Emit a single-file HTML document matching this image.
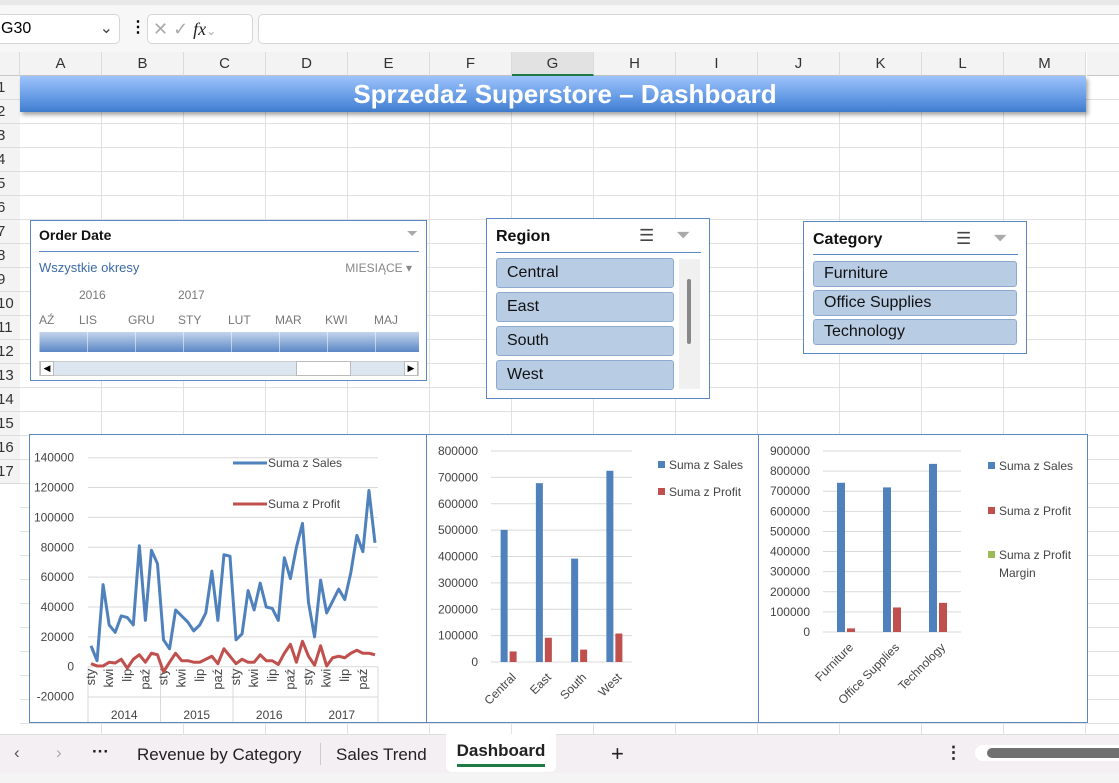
<!DOCTYPE html>
<html><head><meta charset="utf-8">
<style>
*{box-sizing:border-box;margin:0;padding:0}
body{width:1119px;height:783px;overflow:hidden;background:#fff;font-family:"Liberation Sans",sans-serif;position:relative}
.abs{position:absolute}
.colh{position:absolute;top:52px;height:24px;background:#f3f3f3;border-right:1px solid #dcdcdc;border-bottom:1px solid #c8c8c8;font-size:15px;color:#333;text-align:center;line-height:24px}
.rowh{position:absolute;left:0;width:20px;height:24px;font-size:15px;color:#333;line-height:24px;background:#f3f3f3;border-bottom:1px solid #dcdcdc}
.slicer{position:absolute;background:#fff;border:1px solid #5b87c5}
.item{position:absolute;background:#b8cce4;border:1px solid #8ea9cf;border-radius:3px;font-size:16px;color:#111;padding-left:10px;line-height:28px}
svg text{font-family:"Liberation Sans",sans-serif}
</style></head><body>
<div class="abs" style="left:0;top:0;width:1119px;height:52px;background:#f7f7f7;border-top:5px solid #e8e8e8">
 <div class="abs" style="left:-4px;top:9px;width:124px;height:30px;background:#fff;border:1px solid #d6d6d6;border-radius:5px;font-size:16px;line-height:28px;padding-left:4px">G30<span style="position:absolute;right:6px;color:#444">&#8964;</span></div>
 <div class="abs" style="left:130px;top:12px;font-size:16px;font-weight:bold">&#8942;</div>
 <div class="abs" style="left:147px;top:9px;width:106px;height:30px;background:#fff;border:1px solid #d6d6d6;border-radius:5px;font-size:18px;color:#aaa;line-height:28px;padding-left:5px">&#10005; &#10003; <i style="color:#222;font-family:'Liberation Serif',serif">fx</i><span style="font-size:12px">&#8964;</span></div>
 <div class="abs" style="left:258px;top:9px;width:870px;height:30px;background:#fff;border:1px solid #d6d6d6;border-radius:5px"></div>
</div>
<div class="abs" style="left:20px;top:76px;width:1099px;height:660px;background-image:linear-gradient(to right,#e1e1e1 1px,transparent 1px),linear-gradient(to bottom,#e1e1e1 1px,transparent 1px);background-size:82px 24px;background-position:-1px -1px"></div>
<div id="heads"></div>
<div class="abs" style="left:20px;top:76px;width:1066px;height:36px;background:linear-gradient(#9dc3fb,#5b93e0 70%,#3f7ccc);box-shadow:2px 3px 4px rgba(0,0,0,.35);color:#fff;font-weight:bold;font-size:26px;text-align:center;line-height:36px;padding-left:24px">Sprzedaż Superstore – Dashboard</div>

<div class="slicer" style="left:30px;top:220px;width:397px;height:161px">
 <div class="abs" style="left:8px;top:6px;font-weight:bold;font-size:14px;color:#111">Order Date</div>
 <div class="abs" style="right:8px;top:4px;color:#aaa;font-size:14px">&#9207;</div>
 <div class="abs" style="left:8px;top:30px;width:380px;border-top:1px solid #5b87c5"></div>
 <div class="abs" style="left:8px;top:39px;font-size:13px;color:#3b6aa6">Wszystkie okresy</div>
 <div class="abs" style="right:14px;top:40px;font-size:12px;color:#888">MIESIĄCE &#9662;</div>
 <div class="abs" style="left:48px;top:67px;font-size:12px;color:#777">2016</div>
 <div class="abs" style="left:147px;top:67px;font-size:12px;color:#777">2017</div>
 <div class="abs" style="left:8px;top:92px;width:380px;font-size:12px;color:#777;word-spacing:0">
  <span class="abs" style="left:0">AŹ</span><span class="abs" style="left:40px">LIS</span><span class="abs" style="left:89px">GRU</span><span class="abs" style="left:139px">STY</span><span class="abs" style="left:189px">LUT</span><span class="abs" style="left:236px">MAR</span><span class="abs" style="left:286px">KWI</span><span class="abs" style="left:335px">MAJ</span></div>
 <div class="abs" style="left:8px;top:111px;width:380px;height:20px;background-image:linear-gradient(to right,rgba(255,255,255,.5) 1px,transparent 1px),linear-gradient(#c4d5ec,#5b87c5);background-size:48px 20px,auto"></div>
 <div class="abs" style="left:8px;top:140px;width:380px;height:15px;background:#dce6f1;border:1px solid #ccc">
  <div class="abs" style="left:256px;top:-1px;width:55px;height:15px;background:#fff;border:1px solid #bbb"></div>
  <div class="abs" style="left:0;top:-1px;width:14px;height:15px;background:#fff;border:1px solid #bbb;font-size:9px;line-height:13px;text-align:center">&#9664;</div>
  <div class="abs" style="right:0;top:-1px;width:14px;height:15px;background:#fff;border:1px solid #bbb;font-size:9px;line-height:13px;text-align:center">&#9654;</div>
 </div>
</div>

<div class="slicer" style="left:486px;top:218px;width:224px;height:181px">
 <div class="abs" style="left:9px;top:9px;font-weight:bold;font-size:16px;color:#111">Region</div>
 <div class="abs" style="left:152px;top:7px;font-size:17px;color:#444">&#9776;</div>
 <div class="abs" style="left:189px;top:6px;font-size:18px;color:#aaa">&#9207;</div>
 <div class="abs" style="left:9px;top:33px;width:205px;border-top:1px solid #5b87c5"></div>
 <div class="item" style="left:9px;top:39px;width:178px;height:30px">Central</div>
 <div class="item" style="left:9px;top:73px;width:178px;height:30px">East</div>
 <div class="item" style="left:9px;top:107px;width:178px;height:30px">South</div>
 <div class="item" style="left:9px;top:141px;width:178px;height:30px">West</div>
 <div class="abs" style="left:192px;top:40px;width:21px;height:130px;background:#f0f0f0"><div class="abs" style="left:8px;top:20px;width:4px;height:65px;background:#888;border-radius:2px"></div></div>
</div>

<div class="slicer" style="left:803px;top:221px;width:224px;height:133px">
 <div class="abs" style="left:9px;top:9px;font-weight:bold;font-size:16px;color:#111">Category</div>
 <div class="abs" style="left:152px;top:7px;font-size:17px;color:#444">&#9776;</div>
 <div class="abs" style="left:189px;top:6px;font-size:18px;color:#aaa">&#9207;</div>
 <div class="abs" style="left:9px;top:32px;width:205px;border-top:1px solid #5b87c5"></div>
 <div class="item" style="left:9px;top:39px;width:204px;height:26px;line-height:24px">Furniture</div>
 <div class="item" style="left:9px;top:68px;width:204px;height:26px;line-height:24px">Office Supplies</div>
 <div class="item" style="left:9px;top:97px;width:204px;height:26px;line-height:24px">Technology</div>
</div>

<svg class="abs" style="left:0;top:0" width="1119" height="783" id="svg"></svg>

<div class="abs" style="left:0;top:734px;width:1119px;height:39px;background:#f4eff3;border-top:1px solid #ddd;font-size:17px;color:#222">
 <span class="abs" style="left:14px;top:8px;color:#555">&#8249;</span>
 <span class="abs" style="left:56px;top:8px;color:#aaa">&#8250;</span>
 <span class="abs" style="left:92px;top:7px;font-weight:bold">&middot;&middot;&middot;</span>
 <span class="abs" style="left:137px;top:10px">Revenue by Category</span>
 <span class="abs" style="left:320px;top:8px;width:1px;height:22px;background:#ccc"></span>
 <span class="abs" style="left:336px;top:10px">Sales Trend</span>
 <div class="abs" style="left:446px;top:-1px;width:110px;height:38px;background:#fff;border-radius:0 0 6px 6px;font-weight:bold;text-align:center;padding-top:7px">Dashboard<div style="margin:3px auto 0;width:88px;height:3px;background:#1e7b45"></div></div>
 <span class="abs" style="left:611px;top:6px;font-size:22px">+</span>
 <span class="abs" style="left:945px;top:8px;font-weight:bold">&#8942;</span>
 <div class="abs" style="left:975px;top:10px;width:150px;height:16px;background:#fff;border-radius:8px"><div class="abs" style="left:12px;top:3px;width:140px;height:10px;background:#707070;border-radius:5px"></div></div>
</div>
<div class="abs" style="left:0;top:773px;width:1119px;height:10px;background:#f4f4f4"></div>

<script>
const months=["sty","kwi","lip","paź"];
const years=["2014","2015","2016","2017"];
const salesMonthly=[14,4,55,28,23,34,33,28,81,31,78,69, 18,12,38,34,30,24,28,36,64,31,75,74, 18,22,51,38,56,40,39,31,73,59,80,96, 43,20,58,36,44,52,45,63,88,77,118,83];
const profitMonthly=[2,0.5,0.5,3,2.5,5,-1,5,8,3,9,8, -3.5,3,9,4,4,3,3,5,7,2,12,7, 2,5,3,3,8,4,4,1.5,9,15,3,17, 7,1,14,0.5,6,7,6,9,11,9,9,8];
const lineTicks=[-20000,0,20000,40000,60000,80000,100000,120000,140000];
const regions=["Central","East","South","West"];
const regionSales=[501000,678000,392000,725000];
const regionProfit=[40000,92000,47000,108000];
const regionTicks=[0,100000,200000,300000,400000,500000,600000,700000,800000];
const categories=["Furniture","Office Supplies","Technology"];
const catSales=[742000,719000,836000];
const catProfit=[18000,122000,145000];
const catTicks=[0,100000,200000,300000,400000,500000,600000,700000,800000,900000];

const NS="http://www.w3.org/2000/svg";
const svg=document.getElementById('svg');
function mk(tag,attrs,parent,txt){const e=document.createElementNS(NS,tag);for(const k in attrs)e.setAttribute(k,attrs[k]);if(txt!==undefined)e.textContent=txt;(parent||svg).appendChild(e);return e;}

const heads=document.getElementById('heads');
const cols="ABCDEFGHIJKLM".split("");
cols.forEach((c,i)=>{const d=document.createElement('div');d.className='colh';d.style.left=(20+82*i)+'px';d.style.width='82px';d.textContent=c;


if(c==='G'){d.style.borderBottom='2px solid #1e7b45';d.style.background='#e2e2e2';}
heads.appendChild(d);});
{const d=document.createElement('div');d.className='colh';d.style.left='1087px';d.style.width='40px';


heads.appendChild(d);}
{const d=document.createElement('div');d.className='colh';d.style.left='0';d.style.width='20px';


heads.appendChild(d);}
for(let r=1;r<=17;r++){const d=document.createElement('div');d.className='rowh';d.style.top=(76+24*(r-1))+'px';d.textContent=r;d.style.textIndent='-3px';


heads.appendChild(d);}

function frame(x,y,w,h,name){const r=mk('rect',{x:x+.5,y:y+.5,width:w,height:h,fill:'#fff',stroke:'#5b87c5'});

}
frame(29,434,398,288,'sales-trend-chart');
frame(426,434,333,288,'region-chart');
frame(758,434,329,288,'category-chart');

// line chart
const L={x0:88,x1:378,yTop:457.7,yZero:666.7};
const ly=v=>L.yZero-v*(L.yZero-L.yTop)/140000;
const lx=i=>L.x0+(i+0.5)*(L.x1-L.x0)/48;
lineTicks.forEach(t=>{const y=ly(t);
 if(t>0){const g=mk('line',{x1:L.x0,x2:L.x1,y1:y,y2:y,stroke:'#d9d9d9'});}
 const tx=mk('text',{x:74,y:y+4,'text-anchor':'end','font-size':12,fill:'#444'},null,t);
 
 });
mk('line',{x1:L.x0,x2:L.x1,y1:ly(0),y2:ly(0),stroke:'#d9d9d9'});
const axTop=ly(0), axMid=697, axBot=722;
mk('line',{x1:L.x0,x2:L.x0,y1:axTop,y2:axBot,stroke:'#d9d9d9'});
mk('line',{x1:L.x0,x2:L.x1,y1:axMid,y2:axMid,stroke:'#d9d9d9'});
years.forEach((yr,k)=>{const xs=L.x0+(k+1)*(L.x1-L.x0)/4;
 mk('line',{x1:xs,x2:xs,y1:axTop,y2:axBot,stroke:'#d9d9d9'});
 const t=mk('text',{x:L.x0+(k+0.5)*(L.x1-L.x0)/4,y:719,'text-anchor':'middle','font-size':12,fill:'#444'},null,yr);
 
 
 months.forEach((m,j)=>{const x=lx(k*12+j*3)+4;
  const mt=mk('text',{x:0,y:0,transform:`translate(${x},${axTop+2}) rotate(-90)`,'text-anchor':'end','font-size':13,fill:'#444'},null,m);
  
  });});
function series(vals,color,name){const p=mk('polyline',{points:vals.map((v,i)=>lx(i)+','+ly(v*1000)).join(' '),fill:'none',stroke:color,'stroke-width':3,'stroke-linejoin':'round'});
 
 }
series(salesMonthly,'#4f81bd','sales-line');
series(profitMonthly,'#c0504d','profit-line');
[['Suma z Sales','#4f81bd',463],['Suma z Profit','#c0504d',504]].forEach(([n,c,y])=>{
 mk('line',{x1:233,x2:267,y1:y,y2:y,stroke:c,'stroke-width':3});
 const t=mk('text',{x:268,y:y+4,'font-size':12,fill:'#444'},null,n);
 
 });

function barChart(o){
 const yv=v=>o.y0-v*(o.y0-o.yTop)/o.max;
 const band=(o.x1-o.x0)/o.cats.length;
 o.ticks.forEach(t=>{const y=yv(t);
  const g=mk('line',{x1:o.x0,x2:o.x1,y1:y,y2:y,stroke:'#d9d9d9'});
  const tx=mk('text',{x:o.x0-13,y:y+4,'text-anchor':'end','font-size':12,fill:'#444'},null,t);
  
  });
 o.cats.forEach((c,i)=>{const cx=o.x0+(i+0.5)*band;
  const b1=mk('rect',{x:cx-o.bw-1,y:yv(o.s1[i]),width:o.bw,height:o.y0-yv(o.s1[i]),fill:'#4f81bd'});
  
  
  const b2=mk('rect',{x:cx+1,y:yv(o.s2[i]),width:o.bw,height:o.y0-yv(o.s2[i]),fill:'#c0504d'});
  
  
  const t=mk('text',{x:0,y:0,transform:`translate(${cx+8},${o.y0+16}) rotate(-45)`,'text-anchor':'end','font-size':12,fill:'#444'},null,c);
  
  });
 o.legend.forEach(([n,c,y])=>{mk('rect',{x:o.lx,y:y-5,width:7,height:7,fill:c});
  n.split('|').forEach((ln,k)=>{const t=mk('text',{x:o.lx+11,y:y+3+k*18,'font-size':12,fill:'#444'},null,ln);
  
  });});
}
barChart({x0:491,x1:632,y0:662,yTop:451,max:800000,bw:7,cats:regions,s1:regionSales,s2:regionProfit,ticks:regionTicks,lx:658,
 legend:[['Suma z Sales','#4f81bd',466],['Suma z Profit','#c0504d',493]]});
barChart({x0:823,x1:961,y0:632,yTop:451,max:900000,bw:8,cats:categories,s1:catSales,s2:catProfit,ticks:catTicks,lx:988,
 legend:[['Suma z Sales','#4f81bd',467],['Suma z Profit','#c0504d',512],['Suma z Profit|Margin','#9bbb59',556]]});
</script>
</body></html>
